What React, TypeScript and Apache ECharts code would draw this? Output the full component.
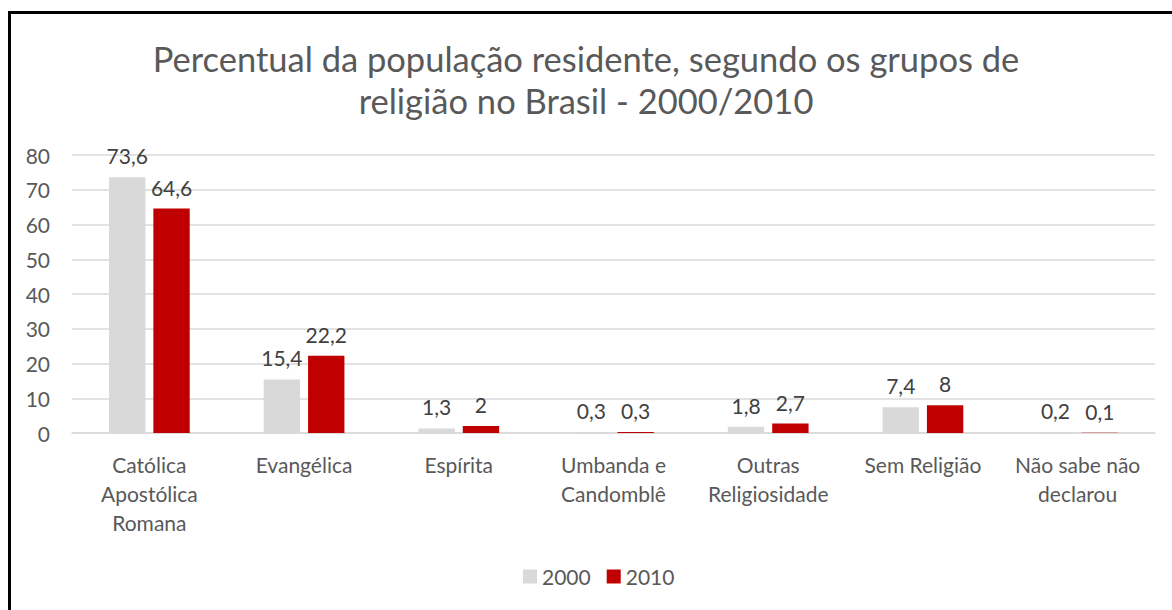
import React, { useEffect, useRef } from "react";
import * as echarts from "echarts";

const categories = [
  "Católica\nApostólica\nRomana",
  "Evangélica",
  "Espírita",
  "Umbanda e\nCandomblê",
  "Outras\nReligiosidade",
  "Sem Religião",
  "Não sabe não\ndeclarou",
];
const values2000 = [73.6, 15.4, 1.3, 0.3, 1.8, 7.4, 0.2];
const values2010 = [64.6, 22.2, 2, 0.3, 2.7, 8, 0.1];
const yTicks = [0, 10, 20, 30, 40, 50, 60, 70, 80];

const FONT = "Lato, 'Open Sans', sans-serif";

export default function App() {
  const ref = useRef<HTMLDivElement>(null);
  useEffect(() => {
    if (!ref.current) return;
    const chart = echarts.init(ref.current, undefined, { renderer: "svg" });
    const fmt = (p: any) => String(p.value).replace(".", ",");
    chart.setOption({
      animation: false,
      textStyle: { fontFamily: FONT },
      title: {
        text: "Percentual da população residente, segundo os grupos de\nreligião no Brasil - 2000/2010",
        left: "center",
        top: 32,
        textStyle: {
          fontFamily: FONT,
          fontSize: 34.5,
          fontWeight: "normal",
          color: "#595959",
          lineHeight: 42,
        },
      },
      legend: {
        bottom: 18,
        left: 518,
        itemWidth: 14,
        itemHeight: 14,
        itemGap: 16,
        icon: "rect",
        textStyle: { fontFamily: FONT, fontSize: 21, color: "#595959" },
        data: ["2000", "2010"],
      },
      grid: { left: 72, right: 17, top: 155, bottom: 177, containLabel: false },
      xAxis: {
        type: "category",
        data: categories,
        axisLine: { lineStyle: { color: "#d9d9d9", width: 1.5 } },
        axisTick: { show: false },
        axisLabel: {
          interval: 0,
          fontFamily: FONT,
          fontSize: 21,
          lineHeight: 29,
          color: "#595959",
          margin: 17,
        },
      },
      yAxis: {
        type: "value",
        min: yTicks[0],
        max: yTicks[yTicks.length - 1],
        interval: 10,
        axisLine: { show: false },
        axisTick: { show: false },
        splitLine: { lineStyle: { color: "#d9d9d9", width: 1.5 } },
        axisLabel: {
          fontFamily: FONT,
          fontSize: 21,
          color: "#595959",
          margin: 22,
        },
      },
      series: [
        {
          name: "2000",
          type: "bar",
          data: values2000,
          barWidth: "23.5%",
          barGap: "22%",
          itemStyle: { color: "#d9d9d9" },
          label: {
            show: true,
            position: "top",
            distance: 11,
            formatter: fmt,
            fontFamily: FONT,
            fontSize: 21,
            color: "#404040",
          },
        },
        {
          name: "2010",
          type: "bar",
          data: values2010,
          barWidth: "23.5%",
          itemStyle: { color: "#c00000" },
          label: {
            show: true,
            position: "top",
            distance: 11,
            formatter: fmt,
            fontFamily: FONT,
            fontSize: 21,
            color: "#404040",
          },
        },
      ],
    });
    return () => chart.dispose();
  }, []);
  return (
    <div
      style={{
        position: "absolute",
        left: 0,
        top: 0,
        width: 1172,
        height: 610,
        overflow: "hidden",
        background: "#fff",
      }}
    >
      <div
        style={{
          position: "absolute",
          left: 8,
          top: 11,
          width: 1300,
          height: 700,
          border: "3px solid #000",
          boxSizing: "border-box",
        }}
      />
      <div
        ref={ref}
        style={{ position: "absolute", left: 0, top: 0, width: 1172, height: 610 }}
      />
    </div>
  );
}
